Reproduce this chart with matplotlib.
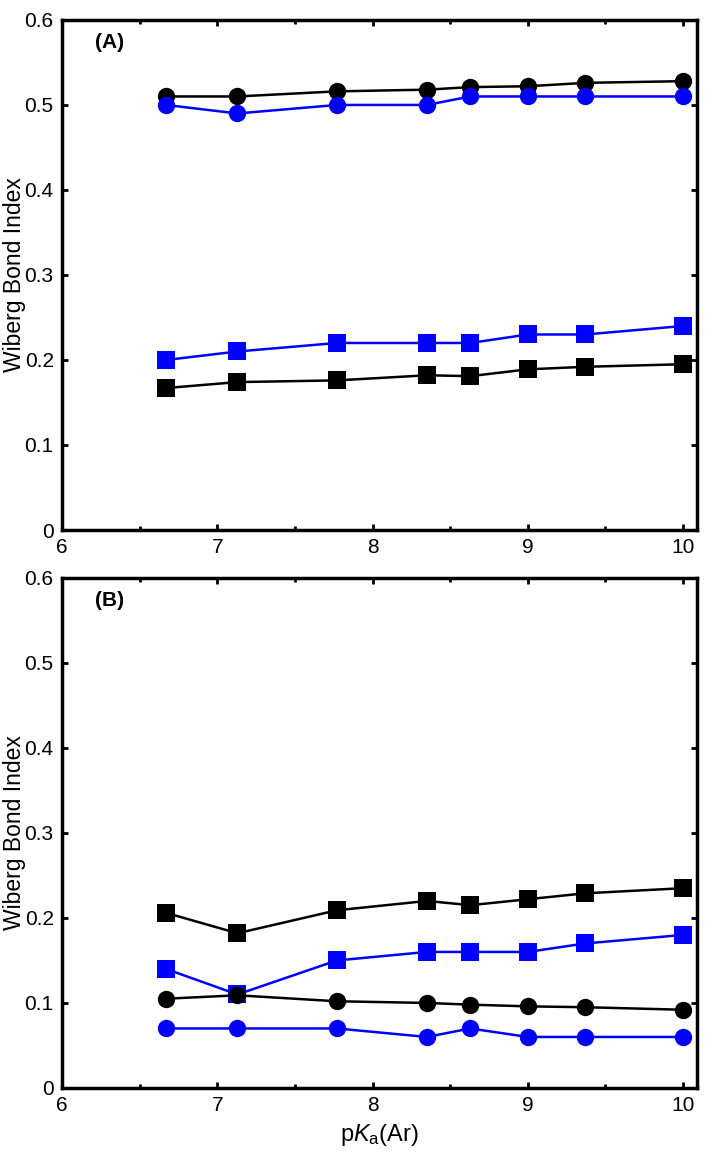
import matplotlib
matplotlib.use("Agg")
import matplotlib.pyplot as plt
from matplotlib.ticker import MultipleLocator

plt.rcParams['font.family'] = ['Liberation Sans', 'DejaVu Sans']
plt.rcParams['mathtext.fontset'] = 'custom'
plt.rcParams['mathtext.rm'] = 'Liberation Sans'
plt.rcParams['mathtext.it'] = 'Liberation Sans:italic'

pka = [6.67, 7.13, 7.77, 8.35, 8.63, 9.0, 9.37, 10.0]

# Panel A
a_black_circ = [0.510, 0.510, 0.516, 0.518, 0.521, 0.522, 0.526, 0.528]
a_blue_circ = [0.50, 0.49, 0.50, 0.50, 0.51, 0.51, 0.51, 0.51]
a_blue_sq = [0.20, 0.21, 0.22, 0.22, 0.22, 0.23, 0.23, 0.24]
a_black_sq = [0.167, 0.174, 0.176, 0.182, 0.181, 0.189, 0.192, 0.195]

# Panel B
b_black_sq = [0.206, 0.182, 0.209, 0.220, 0.215, 0.222, 0.229, 0.235]
b_blue_sq = [0.14, 0.11, 0.15, 0.16, 0.16, 0.16, 0.17, 0.18]
b_black_circ = [0.105, 0.109, 0.102, 0.100, 0.098, 0.096, 0.095, 0.092]
b_blue_circ = [0.07, 0.07, 0.07, 0.06, 0.07, 0.06, 0.06, 0.06]

yticks = [0, 0.1, 0.2, 0.3, 0.4, 0.5, 0.6]
ytick_labels = ['0', '0.1', '0.2', '0.3', '0.4', '0.5', '0.6']
xticks = [6, 7, 8, 9, 10]

fig = plt.figure(figsize=(7.14, 11.6), dpi=100)
axA = fig.add_axes([0.0868, 0.5431, 0.8894, 0.4397])
axB = fig.add_axes([0.0868, 0.0621, 0.8894, 0.4397])

BLUE = '#0000ff'
lw = 1.8
ms_c = 12.5
ms_s = 12.5

def series(ax, y, color, marker, ms):
    ax.plot(pka, y, color=color, lw=lw, marker=marker, markersize=ms,
            markerfacecolor=color, markeredgecolor=color, markeredgewidth=0)

series(axA, a_black_circ, 'black', 'o', ms_c)
series(axA, a_blue_circ, BLUE, 'o', ms_c)
series(axA, a_blue_sq, BLUE, 's', ms_s)
series(axA, a_black_sq, 'black', 's', ms_s)

series(axB, b_black_sq, 'black', 's', ms_s)
series(axB, b_blue_sq, BLUE, 's', ms_s)
series(axB, b_black_circ, 'black', 'o', ms_c)
series(axB, b_blue_circ, BLUE, 'o', ms_c)

for ax, lab in [(axA, '(A)'), (axB, '(B)')]:
    ax.set_xlim(6, 10.09)
    ax.set_ylim(0, 0.6)
    ax.set_xticks(xticks)
    ax.set_xticklabels([str(t) for t in xticks])
    ax.xaxis.set_minor_locator(MultipleLocator(0.5))
    ax.set_yticks(yticks)
    ax.set_yticklabels(ytick_labels)
    for s in ax.spines.values():
        s.set_linewidth(2.5)
    ax.tick_params(which='both', direction='in', top=True, right=True,
                   length=4, width=2, labelsize=15, pad=6)
    ax.tick_params(which='minor', length=3, width=2)
    ax.set_ylabel('Wiberg Bond Index', fontsize=16.5)
    ax.yaxis.set_label_coords(-0.057, 0.5)
    ax.text(6.21, 0.574, lab, fontsize=15, fontweight='bold', ha='left', va='center')

axB.set_xlabel(r'p$K_{\mathrm{a}}$(Ar)', fontsize=17, labelpad=5)

fig.savefig('out.png', dpi=100)
